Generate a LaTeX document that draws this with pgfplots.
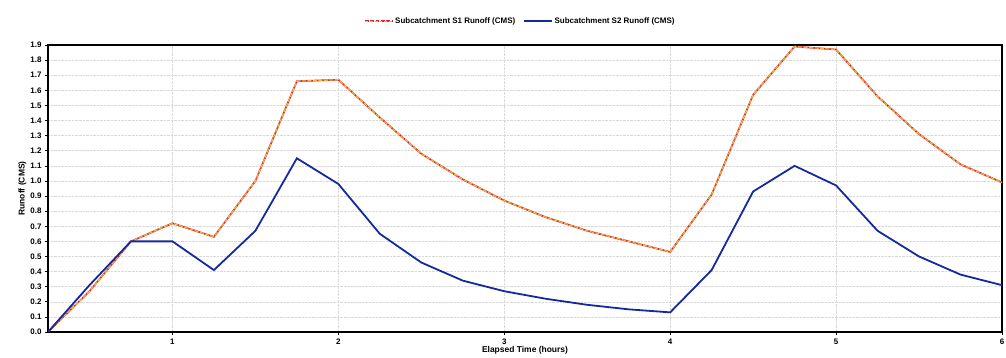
\documentclass[border=0pt]{standalone}
\usepackage{fontspec}
\setmainfont{Liberation Sans}
\usepackage{pgfplots}
\pgfplotsset{compat=1.18}
\definecolor{sone}{RGB}{214,40,40}
\definecolor{soneo}{RGB}{245,180,70}
\definecolor{stwo}{RGB}{20,40,160}
\begin{document}
\begin{tikzpicture}[x=1bp,y=1bp]
\begin{axis}[
  at={(0,0)}, anchor=south west,
  scale only axis=true,
  width=954bp, height=287bp,
  xmin=0.25, xmax=6, ymin=0, ymax=1.9,
  xtick={1,2,3,4,5,6},
  ytick={0,0.1,...,1.91},
  yticklabel style={/pgf/number format/.cd, fixed, fixed zerofill, precision=1},
  /pgf/number format/assume math mode=true,
  tick label style={font=\fontsize{8}{9}\selectfont\bfseries},
  label style={font=\fontsize{8.5}{10}\selectfont\bfseries},
  xlabel={Elapsed Time (hours)},
  ylabel={Runoff (CMS)},
  xlabel style={at={(axis description cs:0.5,0)}, anchor=north, yshift=-11bp},
  ylabel style={at={(axis description cs:0,0.5)}, anchor=south, yshift=18bp},
  grid=major,
  major grid style={densely dotted, gray!30, line width=0.5pt},
  axis line style={black, line width=1.4pt},
  tick style={black, line width=0.6pt},
  major tick length=3bp,
  tick align=outside,
  xtick pos=bottom, ytick pos=left,
  legend style={at={(0.495,1)}, anchor=south, yshift=16bp, draw=none, fill=none,
    font=\fontsize{8}{9}\selectfont\bfseries, legend columns=2,
    /tikz/every even column/.append style={column sep=6bp}},
  legend cell align=left,
]
\addplot[sone, line width=1.7pt, forget plot] coordinates {
(0.25,0) (0.5,0.27) (0.75,0.60) (1.0,0.72) (1.25,0.63) (1.5,1.00) (1.75,1.66) (2.0,1.67)
(2.25,1.42) (2.5,1.18) (2.75,1.01) (3.0,0.87) (3.25,0.76) (3.5,0.67) (3.75,0.60) (4.0,0.53)
(4.25,0.91) (4.5,1.57) (4.75,1.89) (5.0,1.87) (5.25,1.56) (5.5,1.31) (5.75,1.11) (6.0,0.99)};
\addplot[soneo, line width=1.2pt, dash pattern=on 4pt off 1.5pt,
  legend image code/.code={\draw[sone,line width=1.4pt] (0bp,0bp) -- (28bp,0bp); \draw[soneo,line width=1.1pt,dash pattern=on 3pt off 2pt] (0bp,0bp) -- (28bp,0bp);}] coordinates {
(0.25,0) (0.5,0.27) (0.75,0.60) (1.0,0.72) (1.25,0.63) (1.5,1.00) (1.75,1.66) (2.0,1.67)
(2.25,1.42) (2.5,1.18) (2.75,1.01) (3.0,0.87) (3.25,0.76) (3.5,0.67) (3.75,0.60) (4.0,0.53)
(4.25,0.91) (4.5,1.57) (4.75,1.89) (5.0,1.87) (5.25,1.56) (5.5,1.31) (5.75,1.11) (6.0,0.99)};
\addlegendentry{Subcatchment S1 Runoff (CMS)}
\addplot[stwo, line width=1.8pt,
  legend image code/.code={\draw[stwo,line width=1.4pt] (0bp,0bp) -- (28bp,0bp);}] coordinates {
(0.25,0) (0.5,0.31) (0.75,0.60) (1.0,0.60) (1.25,0.41) (1.5,0.67) (1.75,1.15) (2.0,0.98)
(2.25,0.65) (2.5,0.46) (2.75,0.34) (3.0,0.27) (3.25,0.22) (3.5,0.18) (3.75,0.15) (4.0,0.13)
(4.25,0.41) (4.5,0.93) (4.75,1.10) (5.0,0.97) (5.25,0.67) (5.5,0.50) (5.75,0.38) (6.0,0.31)};
\addlegendentry{Subcatchment S2 Runoff (CMS)}
\end{axis}
\pgfresetboundingbox
\path[use as bounding box] (-48bp,-26bp) rectangle (958bp,332bp);
\end{tikzpicture}
\end{document}
